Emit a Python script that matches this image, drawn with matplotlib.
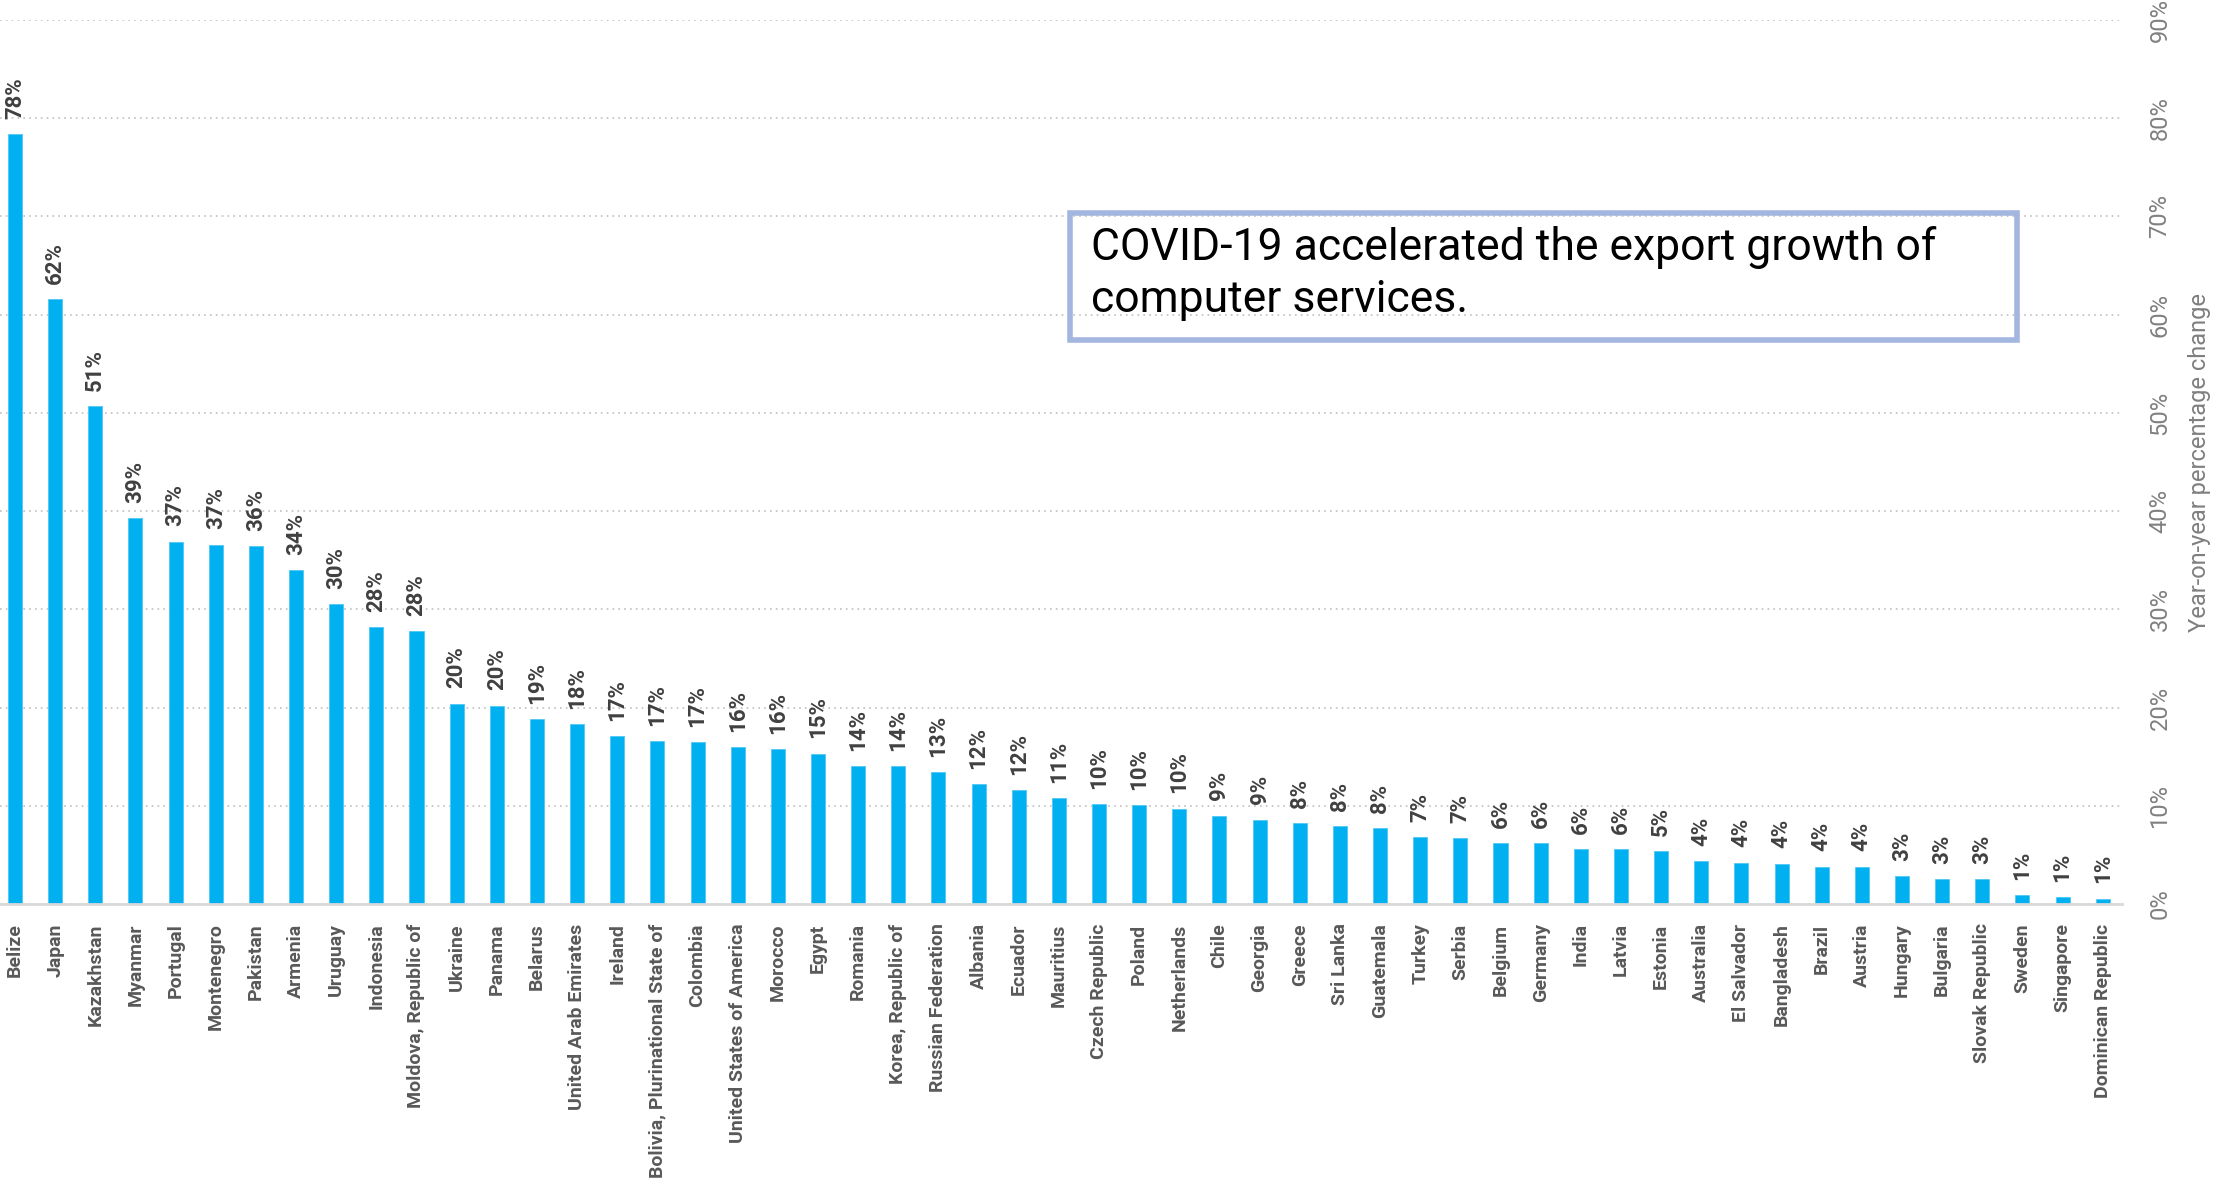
import matplotlib
matplotlib.use("Agg")
from matplotlib import pyplot as plt
from matplotlib.patches import Rectangle
from matplotlib.ticker import MultipleLocator, PercentFormatter

countries = [
    "Belize", "Japan", "Kazakhstan", "Myanmar", "Portugal", "Montenegro",
    "Pakistan", "Armenia", "Uruguay", "Indonesia", "Moldova, Republic of",
    "Ukraine", "Panama", "Belarus", "United Arab Emirates", "Ireland",
    "Bolivia, Plurinational State of", "Colombia", "United States of America",
    "Morocco", "Egypt", "Romania", "Korea, Republic of", "Russian Federation",
    "Albania", "Ecuador", "Mauritius", "Czech Republic", "Poland",
    "Netherlands", "Chile", "Georgia", "Greece", "Sri Lanka", "Guatemala",
    "Turkey", "Serbia", "Belgium", "Germany", "India", "Latvia", "Estonia",
    "Australia", "El Salvador", "Bangladesh", "Brazil", "Austria", "Hungary",
    "Bulgaria", "Slovak Republic", "Sweden", "Singapore", "Dominican Republic",
]

# year-on-year change, percent
growth = [
    78.4, 61.6, 50.7, 39.3, 36.9, 36.6, 36.4, 34.0, 30.5, 28.2, 27.8,
    20.4, 20.2, 18.8, 18.3, 17.1, 16.6, 16.51, 16.0, 15.8, 15.3, 14.0,
    14.0, 13.4, 12.2, 11.6, 10.8, 10.2, 10.1, 9.7, 9.0, 8.6, 8.2, 7.9,
    7.7, 6.8, 6.7, 6.2, 6.2, 5.6, 5.6, 5.4, 4.4, 4.2, 4.1, 3.8, 3.8,
    2.8, 2.55, 2.51, 0.92, 0.68, 0.54,
]

note = "COVID-19 accelerated the export growth of\ncomputer services."
ylabel = "Year-on-year percentage change"

fam = ["Liberation Sans Narrow", "Roboto"]

W, H = 2216, 1192
fig = plt.figure(figsize=(W / 100, H / 100), dpi=100)

# axes box in pixels: x 0..2122, y 20..904 (from top)
ax = fig.add_axes([0, (H - 904) / H, 2122 / W, 884 / H])

x = list(range(len(countries)))
ax.bar(x, growth, width=0.35, color="#00B0F0", edgecolor="#4FC8F4", linewidth=0.6, zorder=3)

for xi, v in zip(x, growth):
    ax.annotate(f"{v:.0f}%", (xi, v), xytext=(0, 11), textcoords="offset points",
                rotation=90, ha="center", va="bottom", fontsize=16,
                fontweight="bold", color="#404040", family=fam)

ax.set_xlim(-0.374, 52.48)
ax.set_ylim(0, 90)
ax.yaxis.set_major_locator(MultipleLocator(10))
ax.yaxis.set_major_formatter(PercentFormatter(decimals=0))
ax.yaxis.tick_right()
ax.yaxis.set_label_position("right")
ax.grid(axis="y", color="#BFBFBF", linestyle=(0, (1, 2.5)), linewidth=1.2, zorder=0)

for side in ["top", "left", "right"]:
    ax.spines[side].set_visible(False)
ax.spines["bottom"].set_color("#D9D9D9")
ax.spines["bottom"].set_linewidth(2)
ax.spines["bottom"].set_zorder(4)

ax.set_xticks(x)
ax.set_xticklabels(countries, rotation=90, fontsize=14, fontweight="bold",
                   color="#595959", family=fam)
ax.tick_params(axis="x", length=0, pad=14)
ax.tick_params(axis="y", length=0, pad=19, labelsize=17, labelcolor="#808080",
               labelrotation=90)
for lab in ax.get_yticklabels():
    lab.set_family(fam)
    lab.set_verticalalignment("center")

ax.set_ylabel(ylabel, fontsize=17, color="#7F7F7F", labelpad=12, family=fam)
ax.yaxis.label.set_rotation(90)

# note box
fig.add_artist(Rectangle((1070 / W, 1 - 340 / H), 947 / W, 127 / H,
                         transform=fig.transFigure, fill=False,
                         edgecolor="#A3B6E0", linewidth=4))
fig.text(1091 / W, 1 - 226 / H, note, ha="left", va="top", fontsize=32,
         color="black", linespacing=1.3, family=fam)

fig.savefig("out.png", dpi=100)
